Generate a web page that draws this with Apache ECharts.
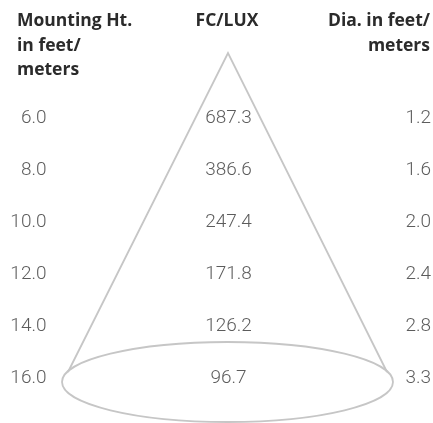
<!DOCTYPE html>
<html>
<head>
<meta charset="utf-8">
<script src="https://cdn.jsdelivr.net/npm/echarts@6/dist/echarts.min.js"></script>
<style>html,body{margin:0;padding:0;background:#fff}#c{width:433px;height:423px}</style>
</head>
<body>
<div id="c"></div>
<script>
// ---- data ----
const columns = ['Mounting Ht.', 'FC/LUX', 'Dia.'];
const heightHeader = ['Mounting Ht.', 'in feet/', 'meters'];
const fcHeader = ['FC/LUX'];
const diaHeader = ['Dia. in feet/', 'meters'];
const mountingHeights = [6.0, 8.0, 10.0, 12.0, 14.0, 16.0];
const fcLux = [687.3, 386.6, 247.4, 171.8, 126.2, 96.7];
const diameters = [1.2, 1.6, 2.0, 2.4, 2.8, 3.3];

const rows = mountingHeights.map((h, i) => String(i));
const FONT = 'Roboto, "DejaVu Sans", sans-serif';
const HEAD_FONT = '"Open Sans", Roboto, sans-serif';
const valueColor = '#333333';
const headColor = '#2b2b2b';

const chart = echarts.init(document.getElementById('c'), null, {renderer: 'canvas'});

function colSeries(values, colIdx, pos, offset) {
  return {
    type: 'scatter',
    symbolSize: 1,
    itemStyle: {color: 'rgba(0,0,0,0)'},
    silent: true,
    z: 5,
    data: values.map((v, i) => [colIdx, i, v]),
    label: {
      show: true,
      position: pos,
      distance: 0,
      offset: offset || [0, 0],
      formatter: p => p.value[2].toFixed(1),
      fontFamily: FONT,
      fontWeight: 300,
      fontSize: 19,
      color: valueColor
    }
  };
}

const headText = (lines, x, y, align) => ({
  type: 'text',
  x: x, y: y,
  z: 10,
  style: {
    text: lines.join('\n'),
    fontFamily: HEAD_FONT,
    fontWeight: 'bold',
    fontSize: 17.5,
    lineHeight: 24.5,
    fill: headColor,
    align: align,
    verticalAlign: 'top'
  }
});

chart.setOption({
  animation: false,
  backgroundColor: '#ffffff',
  grid: {left: 47, right: 29, top: 118, bottom: 45, containLabel: false},
  xAxis: {type: 'category', data: columns, boundaryGap: false, show: false},
  yAxis: {type: 'category', data: rows, boundaryGap: false, inverse: true, show: false},
  graphic: [
    {
      type: 'polyline', z: 1, silent: true,
      shape: {points: [[68, 372], [228, 53], [387, 372]]},
      style: {stroke: '#c6c6c6', lineWidth: 1.8, fill: null}
    },
    {
      type: 'ellipse', z: 1, silent: true,
      shape: {cx: 227.5, cy: 382, rx: 165.5, ry: 40},
      style: {stroke: '#c6c6c6', lineWidth: 1.8, fill: null}
    },
    headText(heightHeader, 17, 9, 'left'),
    headText(fcHeader, 227, 9, 'center'),
    headText(diaHeader, 430, 9, 'right')
  ],
  series: [
    colSeries(mountingHeights, 0, 'left'),
    colSeries(fcLux, 1, 'inside', [3, 0]),
    colSeries(diameters, 2, 'right', [1, 0])
  ]
});
</script>
</body>
</html>
